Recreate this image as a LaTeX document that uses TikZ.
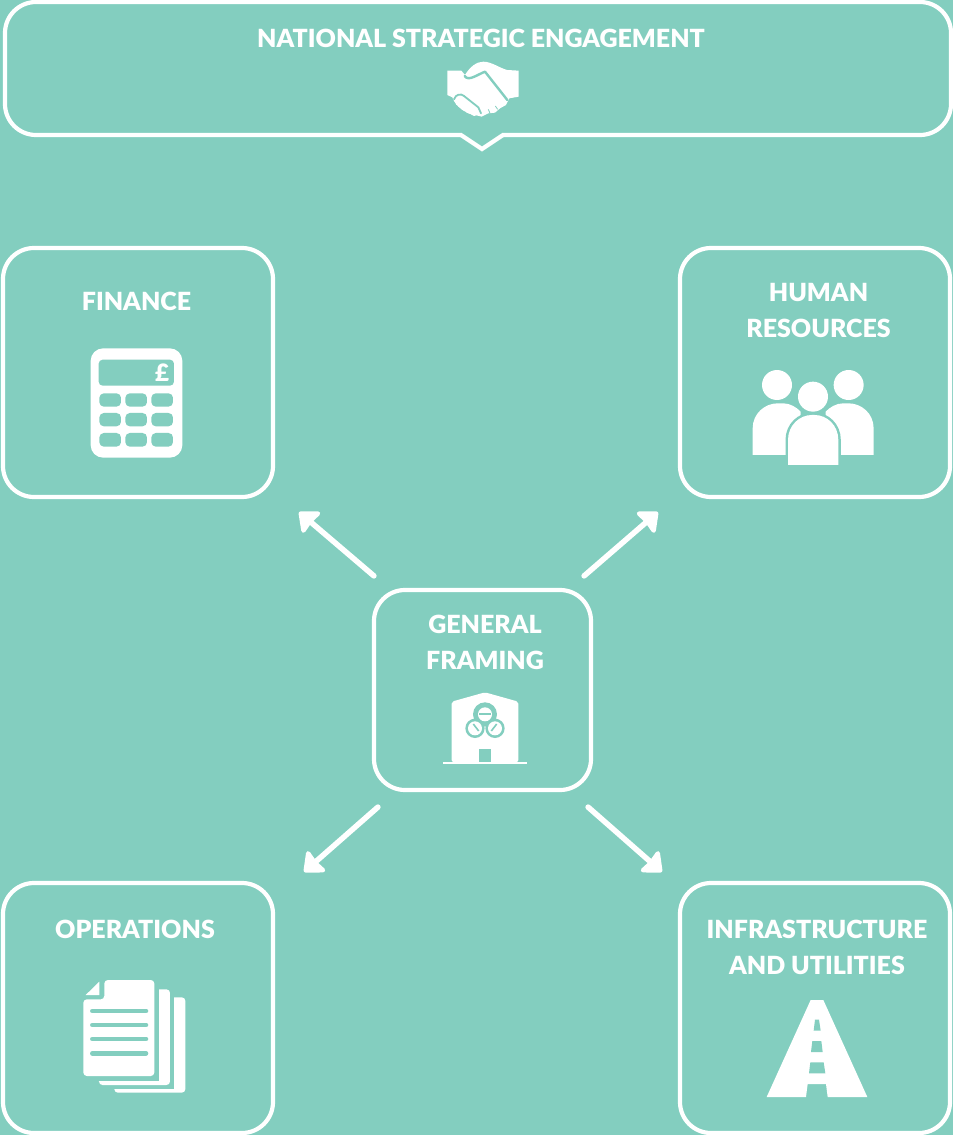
\documentclass[tikz,border=0pt]{standalone}
\usepackage{fontspec}
\setmainfont{Lato}[BoldFont={Lato Black}]
\usetikzlibrary{arrows.meta}
\definecolor{teal0}{HTML}{83CEBF}
\tikzset{
  panel/.style={draw=white,line width=4.2pt,rounded corners=31pt,inner sep=0pt,fill=none},
  label/.style={text=white,font=\fontsize{25}{36}\selectfont\bfseries,align=center,inner sep=0pt},
  conn/.style={draw=white,line width=5.5pt,line cap=round,-{Triangle[length=19pt,width=32pt,inset=1.5pt,round=false]}},
  icon/.style={x=.3333pt,y=-.3333pt},
  hole/.style={fill=teal0},
  solid0/.style={fill=white}
}
\begin{document}
\begin{tikzpicture}[x=1pt,y=-1pt]
\useasboundingbox[fill=teal0] (0,0) rectangle (953,1135);
% panels
\draw[draw=white,line width=4.2pt,rounded corners=31pt] (482,135) -- (5,135) -- (5,2) -- (951,2) -- (951,135) -- (482,135);
\fill[teal0] (462,132) rectangle (502,138);
\draw[white,line width=4.2pt,line join=miter] (461,135) -- (482,149) -- (503,135);
\node[panel,minimum width=270pt,minimum height=249pt] (finance) at (138,372.5) {};
\node[panel,minimum width=270pt,minimum height=249pt] (hr) at (815,372.5) {};
\node[panel,minimum width=217pt,minimum height=200pt] (general) at (482.5,690) {};
\node[panel,minimum width=270pt,minimum height=250pt] (ops) at (138,1008) {};
\node[panel,minimum width=270pt,minimum height=250pt] (infra) at (815,1008) {};
% labels
\node[label] (ltop) at (481,38.5) {NATIONAL STRATEGIC ENGAGEMENT};
\node[label] (lfin) at (136.5,301.5) {FINANCE};
\node[label] (lhr) at (818.5,310.5) {HUMAN\\RESOURCES};
\node[label] (lgen) at (485,642.5) {GENERAL\\FRAMING};
\node[label] (lops) at (135,929.5) {OPERATIONS};
\node[label] (linf) at (817,947.5) {INFRASTRUCTURE\\AND UTILITIES};
% connectors
\draw[conn] ([shift={(2,-12)}]general.north west) -- ([shift={(24,13)}]finance.south east);
\draw[conn] ([shift={(-9,-12)}]general.north east) -- ([shift={(-20,13)}]hr.south west);
\draw[conn] ([shift={(6,15)}]general.south west) -- ([shift={(29,-9)}]ops.north east);
\draw[conn] ([shift={(-5,15)}]general.south east) -- ([shift={(-16,-9)}]infra.north west);
% handshake
\begin{scope}[shift={(420,50)},icon]
\fill[solid0] (82,62) -- (124,62) -- (135,75) .. controls (150,50) and (170,35) .. (190,35) .. controls (215,35) and (240,55) .. (262,60) -- (296,62) -- (296,140) -- (268,145) -- (258,165) -- (240,175) -- (225,188) -- (205,190) -- (185,200) -- (165,195) -- (150,192) -- (130,182) -- (115,170) -- (103,155) -- (97,142) -- (82,135) -- cycle;
\draw[teal0,line width=2.4pt,line cap=round,line join=round] (134,78) .. controls (145,95) and (170,75) .. (195,65) -- (262,150);
\draw[teal0,line width=1.8pt,line cap=round] (102,148) .. controls (108,132) and (122,130) .. (132,138) -- (175,172) -- (183,190);
\fill[solid0] (118,155) circle (13) (133,168) circle (13) (148,178) circle (13) (163,186) circle (12);
\draw[teal0,line width=.8pt] (205,178) -- (210,190) (226,168) -- (233,178);
\end{scope}
% calculator
\begin{scope}[shift={(70,335)},icon]
\fill[solid0,rounded corners=12.5pt] (62,40) rectangle (337,368);
\fill[hole,rounded corners=4pt] (86,74) rectangle (312,152);
\foreach \yy/\yb in {175/215,234/274,294/335}
  \foreach \xx/\xb in {88/153,166/231,244/309}
    \fill[hole,rounded corners=4.5pt] (\xx,\yy) rectangle (\xb,\yb);
\node[text=white,font=\fontsize{24}{24}\selectfont\bfseries,inner sep=0pt] (pound) at (276,114) {£};
\end{scope}
% people
\begin{scope}[shift={(730,360)},icon]
\fill[solid0] (141,75) circle (45) (356,75) circle (45) (249,110) circle (45);
\fill[solid0] (68,285) -- (68,205) .. controls (68,160) and (105,130) .. (143,130) -- (160,130) .. controls (180,130) and (200,142) .. (212,155) -- (212,285) -- cycle;
\fill[solid0] (431,285) -- (431,205) .. controls (431,160) and (394,130) .. (356,130) -- (339,130) .. controls (319,130) and (299,142) .. (287,155) -- (287,285) -- cycle;
\draw[draw=teal0,line width=5pt] (174,330) -- (174,240) .. controls (174,195) and (210,165) .. (245,165) -- (254,165) .. controls (290,165) and (325,195) .. (325,240) -- (325,330);
\fill[solid0] (174,315) -- (174,240) .. controls (174,195) and (210,165) .. (245,165) -- (254,165) .. controls (290,165) and (325,195) .. (325,240) -- (325,315) -- cycle;
\end{scope}
% building with biohazard mark
\begin{scope}[shift={(430,680)},icon]
\fill[solid0,rounded corners=2pt] (65,246) -- (65,65) -- (165,37) -- (265,65) -- (265,246) -- cycle;
\fill[solid0] (38,245) rectangle (292,251);
\fill[hole] (148,208) rectangle (182,246);
\fill[teal0] (165,103) circle (36) (135,145) circle (29) (195,145) circle (29);
\fill[solid0] (165,103) circle (21);
\fill[solid0] (135,145) circle (21) (195,145) circle (21);
\fill[teal0] (146,100) rectangle (184,105);
\draw[teal0,line width=1.6pt] (130,132) -- (146,153) (200,132) -- (184,153);
\end{scope}
% documents
\begin{scope}[shift={(70,970)},icon]
\fill[solid0,rounded corners=3.5pt] (133,82) rectangle (346,368);
\fill[hole] (60,30) rectangle (313,357);
\fill[solid0,rounded corners=3.5pt] (87,58) rectangle (300,345);
\fill[hole] (30,20) rectangle (268,332);
\fill[solid0,rounded corners=3.5pt] (103,30) -- (253,30) -- (253,318) -- (40,318) -- (40,88) -- (103,88) -- cycle;
\fill[solid0] (47,75) -- (88,35) -- (88,75) -- cycle;
\foreach \yy in {123,165,207,250}
  \draw[teal0,line width=4.6pt,line cap=round] (67,\yy) -- (228,\yy);
\end{scope}
% road
\begin{scope}[shift={(750,990)},icon]
\fill[solid0] (182,30) -- (220,30) -- (352,321) -- (233,321) -- (228,282) -- (173,282) -- (168,321) -- (50,321) -- cycle;
\fill[hole] (195,89) -- (207,89) -- (212,122) -- (191,122) -- cycle;
\fill[hole] (187,153) -- (214,153) -- (218,186) -- (183,186) -- cycle;
\fill[hole] (181,217) -- (221,217) -- (226,250) -- (177,250) -- cycle;
\end{scope}
\end{tikzpicture}
\end{document}
